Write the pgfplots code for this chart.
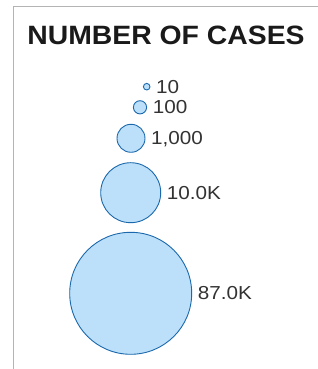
\documentclass[border=0pt]{standalone}
\usepackage{pgfplots}
\usepackage{pgfplotstable}
\pgfplotsset{compat=1.18}
\usepackage{graphicx}
\usepackage{fontspec}
\setmainfont{Liberation Sans}
\definecolor{bfill}{HTML}{BDE0FA}
\definecolor{bdraw}{HTML}{1B69AC}
\definecolor{labelgray}{HTML}{333333}
\definecolor{titleblack}{HTML}{1A1A1A}
\definecolor{bordergray}{HTML}{B4B4B4}
\pgfplotstableread{
x y r label
146.7 282.3 3.3 10
140.0 261.7 6.6 100
131.0 230.7 14.0 1,000
130.7 176.3 30.0 10.0K
130.7 75.7 61.0 87.0K
}\bubbles
\begin{document}
\begin{tikzpicture}[x=1pt,y=1pt]
\begin{axis}[
  at={(0pt,0pt)}, anchor=south west,
  scale only axis, width=318pt, height=369pt,
  xmin=0, xmax=318, ymin=0, ymax=369,
  hide axis, clip=false,
]
\draw[bordergray, line width=1pt] (axis cs:13,0) -- (axis cs:13,362.3) -- (axis cs:318,362.3);
\node[anchor=base, inner sep=0pt, font=\fontsize{26.5}{30}\selectfont\bfseries, text=titleblack]
  at (axis cs:166,324) {\scalebox{1.07}[1]{NUMBER OF CASES}};
\addplot[
  scatter, only marks, mark=*,
  visualization depends on={\thisrow{r} \as \rad},
  scatter/@pre marker code/.code={\begingroup
     \pgfsetplotmarksize{\rad pt}%
     \pgfsetlinewidth{0.9pt}%
     \pgfsetfillcolor{bfill}\pgfsetstrokecolor{bdraw}},
  scatter/@post marker code/.code={\endgroup},
] table {\bubbles};
\addplot[
  draw=none, mark=none,
  point meta=explicit symbolic,
  visualization depends on={\thisrow{r} \as \rad},
  nodes near coords={\scalebox{1.1}[1]{\pgfplotspointmeta}},
  every node near coord/.append style={anchor=west, inner sep=0pt,
     xshift={\rad pt+6pt}, font=\fontsize{18.8}{20}\selectfont,
     text=labelgray, text depth=0pt},
] table[meta=label] {\bubbles};
\end{axis}
\pgfresetboundingbox
\useasboundingbox (0,0) rectangle (318,369);
\end{tikzpicture}
\end{document}
